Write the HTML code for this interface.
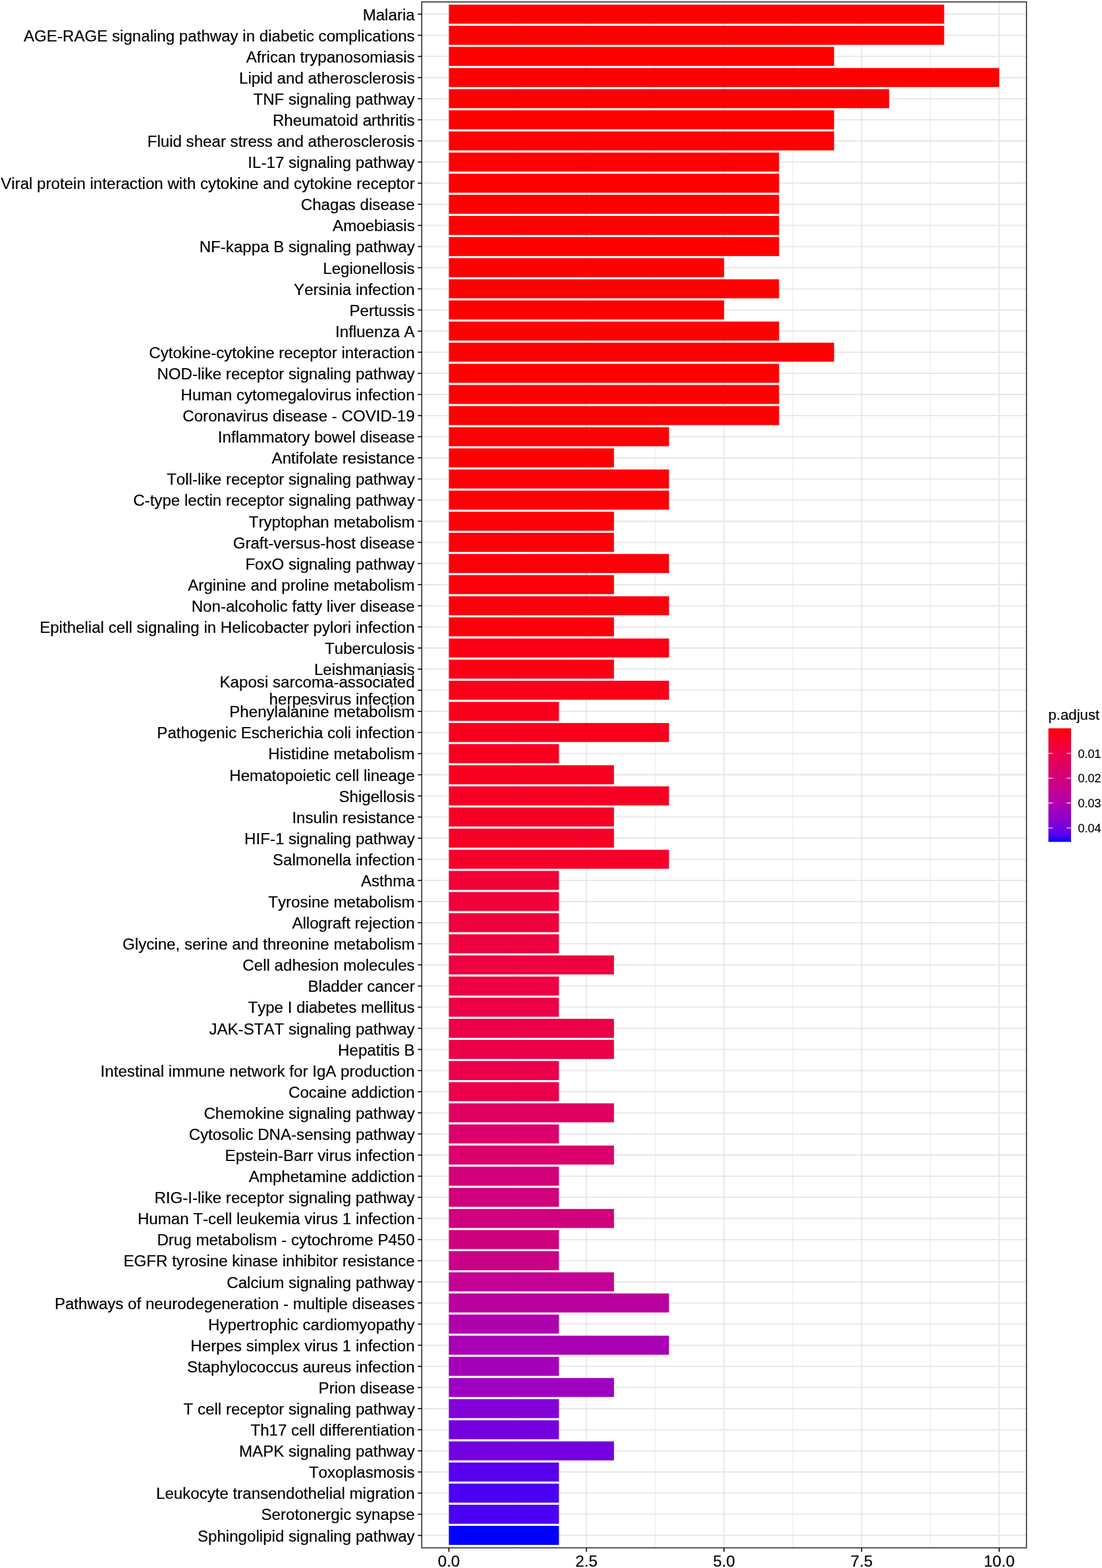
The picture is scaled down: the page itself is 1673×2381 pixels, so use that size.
<!DOCTYPE html><html><head><meta charset="utf-8"><title>KEGG enrichment barplot</title>
<style>html,body{margin:0;padding:0;background:#fff;}body{width:1673px;height:2381px;overflow:hidden;}svg{display:block;}text{font-family:"Liberation Sans",Arial,sans-serif;fill:#000;font-kerning:none;font-variant-ligatures:none;stroke:#000;stroke-width:0.2px;}</style></head><body>
<svg width="1673" height="2381" viewBox="0 0 1673 2381">
<rect x="0" y="0" width="1673" height="2381" fill="#fff"/>
<line x1="785.92" y1="2.90" x2="785.92" y2="2350.40" stroke="#ececec" stroke-width="1.1"/>
<line x1="994.78" y1="2.90" x2="994.78" y2="2350.40" stroke="#ececec" stroke-width="1.1"/>
<line x1="1203.62" y1="2.90" x2="1203.62" y2="2350.40" stroke="#ececec" stroke-width="1.1"/>
<line x1="1412.47" y1="2.90" x2="1412.47" y2="2350.40" stroke="#ececec" stroke-width="1.1"/>
<line x1="681.50" y1="2.90" x2="681.50" y2="2350.40" stroke="#e6e6e6" stroke-width="1.8"/>
<line x1="890.35" y1="2.90" x2="890.35" y2="2350.40" stroke="#e6e6e6" stroke-width="1.8"/>
<line x1="1099.20" y1="2.90" x2="1099.20" y2="2350.40" stroke="#e6e6e6" stroke-width="1.8"/>
<line x1="1308.05" y1="2.90" x2="1308.05" y2="2350.40" stroke="#e6e6e6" stroke-width="1.8"/>
<line x1="1516.90" y1="2.90" x2="1516.90" y2="2350.40" stroke="#e6e6e6" stroke-width="1.8"/>
<line x1="640.30" y1="21.50" x2="1558.40" y2="21.50" stroke="#e6e6e6" stroke-width="1.8"/>
<line x1="640.30" y1="53.58" x2="1558.40" y2="53.58" stroke="#e6e6e6" stroke-width="1.8"/>
<line x1="640.30" y1="85.67" x2="1558.40" y2="85.67" stroke="#e6e6e6" stroke-width="1.8"/>
<line x1="640.30" y1="117.75" x2="1558.40" y2="117.75" stroke="#e6e6e6" stroke-width="1.8"/>
<line x1="640.30" y1="149.83" x2="1558.40" y2="149.83" stroke="#e6e6e6" stroke-width="1.8"/>
<line x1="640.30" y1="181.91" x2="1558.40" y2="181.91" stroke="#e6e6e6" stroke-width="1.8"/>
<line x1="640.30" y1="214.00" x2="1558.40" y2="214.00" stroke="#e6e6e6" stroke-width="1.8"/>
<line x1="640.30" y1="246.08" x2="1558.40" y2="246.08" stroke="#e6e6e6" stroke-width="1.8"/>
<line x1="640.30" y1="278.16" x2="1558.40" y2="278.16" stroke="#e6e6e6" stroke-width="1.8"/>
<line x1="640.30" y1="310.25" x2="1558.40" y2="310.25" stroke="#e6e6e6" stroke-width="1.8"/>
<line x1="640.30" y1="342.33" x2="1558.40" y2="342.33" stroke="#e6e6e6" stroke-width="1.8"/>
<line x1="640.30" y1="374.41" x2="1558.40" y2="374.41" stroke="#e6e6e6" stroke-width="1.8"/>
<line x1="640.30" y1="406.50" x2="1558.40" y2="406.50" stroke="#e6e6e6" stroke-width="1.8"/>
<line x1="640.30" y1="438.58" x2="1558.40" y2="438.58" stroke="#e6e6e6" stroke-width="1.8"/>
<line x1="640.30" y1="470.66" x2="1558.40" y2="470.66" stroke="#e6e6e6" stroke-width="1.8"/>
<line x1="640.30" y1="502.75" x2="1558.40" y2="502.75" stroke="#e6e6e6" stroke-width="1.8"/>
<line x1="640.30" y1="534.83" x2="1558.40" y2="534.83" stroke="#e6e6e6" stroke-width="1.8"/>
<line x1="640.30" y1="566.91" x2="1558.40" y2="566.91" stroke="#e6e6e6" stroke-width="1.8"/>
<line x1="640.30" y1="598.99" x2="1558.40" y2="598.99" stroke="#e6e6e6" stroke-width="1.8"/>
<line x1="640.30" y1="631.08" x2="1558.40" y2="631.08" stroke="#e6e6e6" stroke-width="1.8"/>
<line x1="640.30" y1="663.16" x2="1558.40" y2="663.16" stroke="#e6e6e6" stroke-width="1.8"/>
<line x1="640.30" y1="695.24" x2="1558.40" y2="695.24" stroke="#e6e6e6" stroke-width="1.8"/>
<line x1="640.30" y1="727.33" x2="1558.40" y2="727.33" stroke="#e6e6e6" stroke-width="1.8"/>
<line x1="640.30" y1="759.41" x2="1558.40" y2="759.41" stroke="#e6e6e6" stroke-width="1.8"/>
<line x1="640.30" y1="791.49" x2="1558.40" y2="791.49" stroke="#e6e6e6" stroke-width="1.8"/>
<line x1="640.30" y1="823.57" x2="1558.40" y2="823.57" stroke="#e6e6e6" stroke-width="1.8"/>
<line x1="640.30" y1="855.66" x2="1558.40" y2="855.66" stroke="#e6e6e6" stroke-width="1.8"/>
<line x1="640.30" y1="887.74" x2="1558.40" y2="887.74" stroke="#e6e6e6" stroke-width="1.8"/>
<line x1="640.30" y1="919.82" x2="1558.40" y2="919.82" stroke="#e6e6e6" stroke-width="1.8"/>
<line x1="640.30" y1="951.91" x2="1558.40" y2="951.91" stroke="#e6e6e6" stroke-width="1.8"/>
<line x1="640.30" y1="983.99" x2="1558.40" y2="983.99" stroke="#e6e6e6" stroke-width="1.8"/>
<line x1="640.30" y1="1016.07" x2="1558.40" y2="1016.07" stroke="#e6e6e6" stroke-width="1.8"/>
<line x1="640.30" y1="1048.16" x2="1558.40" y2="1048.16" stroke="#e6e6e6" stroke-width="1.8"/>
<line x1="640.30" y1="1080.24" x2="1558.40" y2="1080.24" stroke="#e6e6e6" stroke-width="1.8"/>
<line x1="640.30" y1="1112.32" x2="1558.40" y2="1112.32" stroke="#e6e6e6" stroke-width="1.8"/>
<line x1="640.30" y1="1144.40" x2="1558.40" y2="1144.40" stroke="#e6e6e6" stroke-width="1.8"/>
<line x1="640.30" y1="1176.49" x2="1558.40" y2="1176.49" stroke="#e6e6e6" stroke-width="1.8"/>
<line x1="640.30" y1="1208.57" x2="1558.40" y2="1208.57" stroke="#e6e6e6" stroke-width="1.8"/>
<line x1="640.30" y1="1240.65" x2="1558.40" y2="1240.65" stroke="#e6e6e6" stroke-width="1.8"/>
<line x1="640.30" y1="1272.74" x2="1558.40" y2="1272.74" stroke="#e6e6e6" stroke-width="1.8"/>
<line x1="640.30" y1="1304.82" x2="1558.40" y2="1304.82" stroke="#e6e6e6" stroke-width="1.8"/>
<line x1="640.30" y1="1336.90" x2="1558.40" y2="1336.90" stroke="#e6e6e6" stroke-width="1.8"/>
<line x1="640.30" y1="1368.99" x2="1558.40" y2="1368.99" stroke="#e6e6e6" stroke-width="1.8"/>
<line x1="640.30" y1="1401.07" x2="1558.40" y2="1401.07" stroke="#e6e6e6" stroke-width="1.8"/>
<line x1="640.30" y1="1433.15" x2="1558.40" y2="1433.15" stroke="#e6e6e6" stroke-width="1.8"/>
<line x1="640.30" y1="1465.23" x2="1558.40" y2="1465.23" stroke="#e6e6e6" stroke-width="1.8"/>
<line x1="640.30" y1="1497.32" x2="1558.40" y2="1497.32" stroke="#e6e6e6" stroke-width="1.8"/>
<line x1="640.30" y1="1529.40" x2="1558.40" y2="1529.40" stroke="#e6e6e6" stroke-width="1.8"/>
<line x1="640.30" y1="1561.48" x2="1558.40" y2="1561.48" stroke="#e6e6e6" stroke-width="1.8"/>
<line x1="640.30" y1="1593.57" x2="1558.40" y2="1593.57" stroke="#e6e6e6" stroke-width="1.8"/>
<line x1="640.30" y1="1625.65" x2="1558.40" y2="1625.65" stroke="#e6e6e6" stroke-width="1.8"/>
<line x1="640.30" y1="1657.73" x2="1558.40" y2="1657.73" stroke="#e6e6e6" stroke-width="1.8"/>
<line x1="640.30" y1="1689.82" x2="1558.40" y2="1689.82" stroke="#e6e6e6" stroke-width="1.8"/>
<line x1="640.30" y1="1721.90" x2="1558.40" y2="1721.90" stroke="#e6e6e6" stroke-width="1.8"/>
<line x1="640.30" y1="1753.98" x2="1558.40" y2="1753.98" stroke="#e6e6e6" stroke-width="1.8"/>
<line x1="640.30" y1="1786.06" x2="1558.40" y2="1786.06" stroke="#e6e6e6" stroke-width="1.8"/>
<line x1="640.30" y1="1818.15" x2="1558.40" y2="1818.15" stroke="#e6e6e6" stroke-width="1.8"/>
<line x1="640.30" y1="1850.23" x2="1558.40" y2="1850.23" stroke="#e6e6e6" stroke-width="1.8"/>
<line x1="640.30" y1="1882.31" x2="1558.40" y2="1882.31" stroke="#e6e6e6" stroke-width="1.8"/>
<line x1="640.30" y1="1914.40" x2="1558.40" y2="1914.40" stroke="#e6e6e6" stroke-width="1.8"/>
<line x1="640.30" y1="1946.48" x2="1558.40" y2="1946.48" stroke="#e6e6e6" stroke-width="1.8"/>
<line x1="640.30" y1="1978.56" x2="1558.40" y2="1978.56" stroke="#e6e6e6" stroke-width="1.8"/>
<line x1="640.30" y1="2010.65" x2="1558.40" y2="2010.65" stroke="#e6e6e6" stroke-width="1.8"/>
<line x1="640.30" y1="2042.73" x2="1558.40" y2="2042.73" stroke="#e6e6e6" stroke-width="1.8"/>
<line x1="640.30" y1="2074.81" x2="1558.40" y2="2074.81" stroke="#e6e6e6" stroke-width="1.8"/>
<line x1="640.30" y1="2106.89" x2="1558.40" y2="2106.89" stroke="#e6e6e6" stroke-width="1.8"/>
<line x1="640.30" y1="2138.98" x2="1558.40" y2="2138.98" stroke="#e6e6e6" stroke-width="1.8"/>
<line x1="640.30" y1="2171.06" x2="1558.40" y2="2171.06" stroke="#e6e6e6" stroke-width="1.8"/>
<line x1="640.30" y1="2203.14" x2="1558.40" y2="2203.14" stroke="#e6e6e6" stroke-width="1.8"/>
<line x1="640.30" y1="2235.23" x2="1558.40" y2="2235.23" stroke="#e6e6e6" stroke-width="1.8"/>
<line x1="640.30" y1="2267.31" x2="1558.40" y2="2267.31" stroke="#e6e6e6" stroke-width="1.8"/>
<line x1="640.30" y1="2299.39" x2="1558.40" y2="2299.39" stroke="#e6e6e6" stroke-width="1.8"/>
<line x1="640.30" y1="2331.48" x2="1558.40" y2="2331.48" stroke="#e6e6e6" stroke-width="1.8"/>
<rect x="681.50" y="7.06" width="751.86" height="28.87" fill="#ff0000"/>
<rect x="681.50" y="39.15" width="751.86" height="28.87" fill="#ff0000"/>
<rect x="681.50" y="71.23" width="584.78" height="28.87" fill="#ff0000"/>
<rect x="681.50" y="103.31" width="835.40" height="28.87" fill="#ff0000"/>
<rect x="681.50" y="135.39" width="668.32" height="28.87" fill="#ff0000"/>
<rect x="681.50" y="167.48" width="584.78" height="28.87" fill="#ff0000"/>
<rect x="681.50" y="199.56" width="584.78" height="28.87" fill="#ff0000"/>
<rect x="681.50" y="231.64" width="501.24" height="28.87" fill="#ff0000"/>
<rect x="681.50" y="263.73" width="501.24" height="28.87" fill="#ff0000"/>
<rect x="681.50" y="295.81" width="501.24" height="28.87" fill="#ff0000"/>
<rect x="681.50" y="327.89" width="501.24" height="28.87" fill="#ff0000"/>
<rect x="681.50" y="359.98" width="501.24" height="28.87" fill="#ff0000"/>
<rect x="681.50" y="392.06" width="417.70" height="28.87" fill="#ff0000"/>
<rect x="681.50" y="424.14" width="501.24" height="28.87" fill="#ff0000"/>
<rect x="681.50" y="456.22" width="417.70" height="28.87" fill="#ff0000"/>
<rect x="681.50" y="488.31" width="501.24" height="28.87" fill="#ff0000"/>
<rect x="681.50" y="520.39" width="584.78" height="28.87" fill="#ff0000"/>
<rect x="681.50" y="552.47" width="501.24" height="28.87" fill="#ff0000"/>
<rect x="681.50" y="584.56" width="501.24" height="28.87" fill="#ff0000"/>
<rect x="681.50" y="616.64" width="501.24" height="28.87" fill="#ff0000"/>
<rect x="681.50" y="648.72" width="334.16" height="28.87" fill="#ff0003"/>
<rect x="681.50" y="680.81" width="250.62" height="28.87" fill="#fe0004"/>
<rect x="681.50" y="712.89" width="334.16" height="28.87" fill="#fe0005"/>
<rect x="681.50" y="744.97" width="334.16" height="28.87" fill="#fe0006"/>
<rect x="681.50" y="777.05" width="250.62" height="28.87" fill="#fe0007"/>
<rect x="681.50" y="809.14" width="250.62" height="28.87" fill="#fe0008"/>
<rect x="681.50" y="841.22" width="334.16" height="28.87" fill="#fe0009"/>
<rect x="681.50" y="873.30" width="250.62" height="28.87" fill="#fe000a"/>
<rect x="681.50" y="905.39" width="334.16" height="28.87" fill="#fe000b"/>
<rect x="681.50" y="937.47" width="250.62" height="28.87" fill="#fd000c"/>
<rect x="681.50" y="969.55" width="334.16" height="28.87" fill="#fc0014"/>
<rect x="681.50" y="1001.64" width="250.62" height="28.87" fill="#fc0016"/>
<rect x="681.50" y="1033.72" width="334.16" height="28.87" fill="#fb0018"/>
<rect x="681.50" y="1065.80" width="167.08" height="28.87" fill="#fb001a"/>
<rect x="681.50" y="1097.88" width="334.16" height="28.87" fill="#fa001c"/>
<rect x="681.50" y="1129.97" width="167.08" height="28.87" fill="#fa001e"/>
<rect x="681.50" y="1162.05" width="250.62" height="28.87" fill="#f90021"/>
<rect x="681.50" y="1194.13" width="334.16" height="28.87" fill="#f80024"/>
<rect x="681.50" y="1226.22" width="250.62" height="28.87" fill="#f80026"/>
<rect x="681.50" y="1258.30" width="250.62" height="28.87" fill="#f70027"/>
<rect x="681.50" y="1290.38" width="334.16" height="28.87" fill="#f6002a"/>
<rect x="681.50" y="1322.47" width="167.08" height="28.87" fill="#f20037"/>
<rect x="681.50" y="1354.55" width="167.08" height="28.87" fill="#f1003a"/>
<rect x="681.50" y="1386.63" width="167.08" height="28.87" fill="#f0003c"/>
<rect x="681.50" y="1418.71" width="167.08" height="28.87" fill="#ef003f"/>
<rect x="681.50" y="1450.80" width="250.62" height="28.87" fill="#ee0041"/>
<rect x="681.50" y="1482.88" width="167.08" height="28.87" fill="#ed0044"/>
<rect x="681.50" y="1514.96" width="167.08" height="28.87" fill="#ed0044"/>
<rect x="681.50" y="1547.05" width="250.62" height="28.87" fill="#ec0046"/>
<rect x="681.50" y="1579.13" width="250.62" height="28.87" fill="#ec0046"/>
<rect x="681.50" y="1611.21" width="167.08" height="28.87" fill="#ea004b"/>
<rect x="681.50" y="1643.30" width="167.08" height="28.87" fill="#ea004b"/>
<rect x="681.50" y="1675.38" width="250.62" height="28.87" fill="#df0062"/>
<rect x="681.50" y="1707.46" width="167.08" height="28.87" fill="#db006b"/>
<rect x="681.50" y="1739.54" width="250.62" height="28.87" fill="#db006b"/>
<rect x="681.50" y="1771.63" width="167.08" height="28.87" fill="#d30079"/>
<rect x="681.50" y="1803.71" width="167.08" height="28.87" fill="#d1007d"/>
<rect x="681.50" y="1835.79" width="250.62" height="28.87" fill="#d1007d"/>
<rect x="681.50" y="1867.88" width="167.08" height="28.87" fill="#cf007f"/>
<rect x="681.50" y="1899.96" width="167.08" height="28.87" fill="#ca0088"/>
<rect x="681.50" y="1932.04" width="250.62" height="28.87" fill="#c20094"/>
<rect x="681.50" y="1964.13" width="334.16" height="28.87" fill="#ba009f"/>
<rect x="681.50" y="1996.21" width="167.08" height="28.87" fill="#ae00ad"/>
<rect x="681.50" y="2028.29" width="334.16" height="28.87" fill="#a800b4"/>
<rect x="681.50" y="2060.37" width="167.08" height="28.87" fill="#a400b9"/>
<rect x="681.50" y="2092.46" width="250.62" height="28.87" fill="#9d00c0"/>
<rect x="681.50" y="2124.54" width="167.08" height="28.87" fill="#8300d6"/>
<rect x="681.50" y="2156.62" width="167.08" height="28.87" fill="#7500df"/>
<rect x="681.50" y="2188.71" width="250.62" height="28.87" fill="#7500df"/>
<rect x="681.50" y="2220.79" width="167.08" height="28.87" fill="#5800ee"/>
<rect x="681.50" y="2252.87" width="167.08" height="28.87" fill="#4b00f3"/>
<rect x="681.50" y="2284.96" width="167.08" height="28.87" fill="#4b00f3"/>
<rect x="681.50" y="2317.04" width="167.08" height="28.87" fill="#0000ff"/>
<rect x="640.30" y="2.90" width="918.10" height="2347.50" fill="none" stroke="#202020" stroke-width="1.5"/>
<line x1="634.30" y1="21.50" x2="640.30" y2="21.50" stroke="#000000" stroke-width="1.6"/>
<text x="629.70" y="30.55" font-size="24.12" text-anchor="end">Malaria</text>
<line x1="634.30" y1="53.58" x2="640.30" y2="53.58" stroke="#000000" stroke-width="1.6"/>
<text x="629.70" y="62.63" font-size="24.12" text-anchor="end">AGE-RAGE signaling pathway in diabetic complications</text>
<line x1="634.30" y1="85.67" x2="640.30" y2="85.67" stroke="#000000" stroke-width="1.6"/>
<text x="629.70" y="94.72" font-size="24.12" text-anchor="end">African trypanosomiasis</text>
<line x1="634.30" y1="117.75" x2="640.30" y2="117.75" stroke="#000000" stroke-width="1.6"/>
<text x="629.70" y="126.80" font-size="24.12" text-anchor="end">Lipid and atherosclerosis</text>
<line x1="634.30" y1="149.83" x2="640.30" y2="149.83" stroke="#000000" stroke-width="1.6"/>
<text x="629.70" y="158.88" font-size="24.12" text-anchor="end">TNF signaling pathway</text>
<line x1="634.30" y1="181.91" x2="640.30" y2="181.91" stroke="#000000" stroke-width="1.6"/>
<text x="629.70" y="190.97" font-size="24.12" text-anchor="end">Rheumatoid arthritis</text>
<line x1="634.30" y1="214.00" x2="640.30" y2="214.00" stroke="#000000" stroke-width="1.6"/>
<text x="629.70" y="223.05" font-size="24.12" text-anchor="end">Fluid shear stress and atherosclerosis</text>
<line x1="634.30" y1="246.08" x2="640.30" y2="246.08" stroke="#000000" stroke-width="1.6"/>
<text x="629.70" y="255.13" font-size="24.12" text-anchor="end">IL-17 signaling pathway</text>
<line x1="634.30" y1="278.16" x2="640.30" y2="278.16" stroke="#000000" stroke-width="1.6"/>
<text x="629.70" y="287.21" font-size="24.12" text-anchor="end">Viral protein interaction with cytokine and cytokine receptor</text>
<line x1="634.30" y1="310.25" x2="640.30" y2="310.25" stroke="#000000" stroke-width="1.6"/>
<text x="629.70" y="319.30" font-size="24.12" text-anchor="end">Chagas disease</text>
<line x1="634.30" y1="342.33" x2="640.30" y2="342.33" stroke="#000000" stroke-width="1.6"/>
<text x="629.70" y="351.38" font-size="24.12" text-anchor="end">Amoebiasis</text>
<line x1="634.30" y1="374.41" x2="640.30" y2="374.41" stroke="#000000" stroke-width="1.6"/>
<text x="629.70" y="383.46" font-size="24.12" text-anchor="end">NF-kappa B signaling pathway</text>
<line x1="634.30" y1="406.50" x2="640.30" y2="406.50" stroke="#000000" stroke-width="1.6"/>
<text x="629.70" y="415.55" font-size="24.12" text-anchor="end">Legionellosis</text>
<line x1="634.30" y1="438.58" x2="640.30" y2="438.58" stroke="#000000" stroke-width="1.6"/>
<text x="629.70" y="447.63" font-size="24.12" text-anchor="end">Yersinia infection</text>
<line x1="634.30" y1="470.66" x2="640.30" y2="470.66" stroke="#000000" stroke-width="1.6"/>
<text x="629.70" y="479.71" font-size="24.12" text-anchor="end">Pertussis</text>
<line x1="634.30" y1="502.75" x2="640.30" y2="502.75" stroke="#000000" stroke-width="1.6"/>
<text x="629.70" y="511.80" font-size="24.12" text-anchor="end">Influenza A</text>
<line x1="634.30" y1="534.83" x2="640.30" y2="534.83" stroke="#000000" stroke-width="1.6"/>
<text x="629.70" y="543.88" font-size="24.12" text-anchor="end">Cytokine-cytokine receptor interaction</text>
<line x1="634.30" y1="566.91" x2="640.30" y2="566.91" stroke="#000000" stroke-width="1.6"/>
<text x="629.70" y="575.96" font-size="24.12" text-anchor="end">NOD-like receptor signaling pathway</text>
<line x1="634.30" y1="598.99" x2="640.30" y2="598.99" stroke="#000000" stroke-width="1.6"/>
<text x="629.70" y="608.04" font-size="24.12" text-anchor="end">Human cytomegalovirus infection</text>
<line x1="634.30" y1="631.08" x2="640.30" y2="631.08" stroke="#000000" stroke-width="1.6"/>
<text x="629.70" y="640.13" font-size="24.12" text-anchor="end">Coronavirus disease - COVID-19</text>
<line x1="634.30" y1="663.16" x2="640.30" y2="663.16" stroke="#000000" stroke-width="1.6"/>
<text x="629.70" y="672.21" font-size="24.12" text-anchor="end">Inflammatory bowel disease</text>
<line x1="634.30" y1="695.24" x2="640.30" y2="695.24" stroke="#000000" stroke-width="1.6"/>
<text x="629.70" y="704.29" font-size="24.12" text-anchor="end">Antifolate resistance</text>
<line x1="634.30" y1="727.33" x2="640.30" y2="727.33" stroke="#000000" stroke-width="1.6"/>
<text x="629.70" y="736.38" font-size="24.12" text-anchor="end">Toll-like receptor signaling pathway</text>
<line x1="634.30" y1="759.41" x2="640.30" y2="759.41" stroke="#000000" stroke-width="1.6"/>
<text x="629.70" y="768.46" font-size="24.12" text-anchor="end">C-type lectin receptor signaling pathway</text>
<line x1="634.30" y1="791.49" x2="640.30" y2="791.49" stroke="#000000" stroke-width="1.6"/>
<text x="629.70" y="800.54" font-size="24.12" text-anchor="end">Tryptophan metabolism</text>
<line x1="634.30" y1="823.57" x2="640.30" y2="823.57" stroke="#000000" stroke-width="1.6"/>
<text x="629.70" y="832.62" font-size="24.12" text-anchor="end">Graft-versus-host disease</text>
<line x1="634.30" y1="855.66" x2="640.30" y2="855.66" stroke="#000000" stroke-width="1.6"/>
<text x="629.70" y="864.71" font-size="24.12" text-anchor="end">FoxO signaling pathway</text>
<line x1="634.30" y1="887.74" x2="640.30" y2="887.74" stroke="#000000" stroke-width="1.6"/>
<text x="629.70" y="896.79" font-size="24.12" text-anchor="end">Arginine and proline metabolism</text>
<line x1="634.30" y1="919.82" x2="640.30" y2="919.82" stroke="#000000" stroke-width="1.6"/>
<text x="629.70" y="928.87" font-size="24.12" text-anchor="end">Non-alcoholic fatty liver disease</text>
<line x1="634.30" y1="951.91" x2="640.30" y2="951.91" stroke="#000000" stroke-width="1.6"/>
<text x="629.70" y="960.96" font-size="24.12" text-anchor="end">Epithelial cell signaling in Helicobacter pylori infection</text>
<line x1="634.30" y1="983.99" x2="640.30" y2="983.99" stroke="#000000" stroke-width="1.6"/>
<text x="629.70" y="993.04" font-size="24.12" text-anchor="end">Tuberculosis</text>
<line x1="634.30" y1="1016.07" x2="640.30" y2="1016.07" stroke="#000000" stroke-width="1.6"/>
<text x="629.70" y="1025.12" font-size="24.12" text-anchor="end">Leishmaniasis</text>
<line x1="634.30" y1="1048.16" x2="640.30" y2="1048.16" stroke="#000000" stroke-width="1.6"/>
<text x="629.70" y="1043.81" font-size="24.12" text-anchor="end">Kaposi sarcoma-associated</text>
<text x="629.70" y="1070.21" font-size="24.12" text-anchor="end">herpesvirus infection</text>
<line x1="634.30" y1="1080.24" x2="640.30" y2="1080.24" stroke="#000000" stroke-width="1.6"/>
<text x="629.70" y="1089.29" font-size="24.12" text-anchor="end">Phenylalanine metabolism</text>
<line x1="634.30" y1="1112.32" x2="640.30" y2="1112.32" stroke="#000000" stroke-width="1.6"/>
<text x="629.70" y="1121.37" font-size="24.12" text-anchor="end">Pathogenic Escherichia coli infection</text>
<line x1="634.30" y1="1144.40" x2="640.30" y2="1144.40" stroke="#000000" stroke-width="1.6"/>
<text x="629.70" y="1153.45" font-size="24.12" text-anchor="end">Histidine metabolism</text>
<line x1="634.30" y1="1176.49" x2="640.30" y2="1176.49" stroke="#000000" stroke-width="1.6"/>
<text x="629.70" y="1185.54" font-size="24.12" text-anchor="end">Hematopoietic cell lineage</text>
<line x1="634.30" y1="1208.57" x2="640.30" y2="1208.57" stroke="#000000" stroke-width="1.6"/>
<text x="629.70" y="1217.62" font-size="24.12" text-anchor="end">Shigellosis</text>
<line x1="634.30" y1="1240.65" x2="640.30" y2="1240.65" stroke="#000000" stroke-width="1.6"/>
<text x="629.70" y="1249.70" font-size="24.12" text-anchor="end">Insulin resistance</text>
<line x1="634.30" y1="1272.74" x2="640.30" y2="1272.74" stroke="#000000" stroke-width="1.6"/>
<text x="629.70" y="1281.79" font-size="24.12" text-anchor="end">HIF-1 signaling pathway</text>
<line x1="634.30" y1="1304.82" x2="640.30" y2="1304.82" stroke="#000000" stroke-width="1.6"/>
<text x="629.70" y="1313.87" font-size="24.12" text-anchor="end">Salmonella infection</text>
<line x1="634.30" y1="1336.90" x2="640.30" y2="1336.90" stroke="#000000" stroke-width="1.6"/>
<text x="629.70" y="1345.95" font-size="24.12" text-anchor="end">Asthma</text>
<line x1="634.30" y1="1368.99" x2="640.30" y2="1368.99" stroke="#000000" stroke-width="1.6"/>
<text x="629.70" y="1378.04" font-size="24.12" text-anchor="end">Tyrosine metabolism</text>
<line x1="634.30" y1="1401.07" x2="640.30" y2="1401.07" stroke="#000000" stroke-width="1.6"/>
<text x="629.70" y="1410.12" font-size="24.12" text-anchor="end">Allograft rejection</text>
<line x1="634.30" y1="1433.15" x2="640.30" y2="1433.15" stroke="#000000" stroke-width="1.6"/>
<text x="629.70" y="1442.20" font-size="24.12" text-anchor="end">Glycine, serine and threonine metabolism</text>
<line x1="634.30" y1="1465.23" x2="640.30" y2="1465.23" stroke="#000000" stroke-width="1.6"/>
<text x="629.70" y="1474.28" font-size="24.12" text-anchor="end">Cell adhesion molecules</text>
<line x1="634.30" y1="1497.32" x2="640.30" y2="1497.32" stroke="#000000" stroke-width="1.6"/>
<text x="629.70" y="1506.37" font-size="24.12" text-anchor="end">Bladder cancer</text>
<line x1="634.30" y1="1529.40" x2="640.30" y2="1529.40" stroke="#000000" stroke-width="1.6"/>
<text x="629.70" y="1538.45" font-size="24.12" text-anchor="end">Type I diabetes mellitus</text>
<line x1="634.30" y1="1561.48" x2="640.30" y2="1561.48" stroke="#000000" stroke-width="1.6"/>
<text x="629.70" y="1570.53" font-size="24.12" text-anchor="end">JAK-STAT signaling pathway</text>
<line x1="634.30" y1="1593.57" x2="640.30" y2="1593.57" stroke="#000000" stroke-width="1.6"/>
<text x="629.70" y="1602.62" font-size="24.12" text-anchor="end">Hepatitis B</text>
<line x1="634.30" y1="1625.65" x2="640.30" y2="1625.65" stroke="#000000" stroke-width="1.6"/>
<text x="629.70" y="1634.70" font-size="24.12" text-anchor="end">Intestinal immune network for IgA production</text>
<line x1="634.30" y1="1657.73" x2="640.30" y2="1657.73" stroke="#000000" stroke-width="1.6"/>
<text x="629.70" y="1666.78" font-size="24.12" text-anchor="end">Cocaine addiction</text>
<line x1="634.30" y1="1689.82" x2="640.30" y2="1689.82" stroke="#000000" stroke-width="1.6"/>
<text x="629.70" y="1698.87" font-size="24.12" text-anchor="end">Chemokine signaling pathway</text>
<line x1="634.30" y1="1721.90" x2="640.30" y2="1721.90" stroke="#000000" stroke-width="1.6"/>
<text x="629.70" y="1730.95" font-size="24.12" text-anchor="end">Cytosolic DNA-sensing pathway</text>
<line x1="634.30" y1="1753.98" x2="640.30" y2="1753.98" stroke="#000000" stroke-width="1.6"/>
<text x="629.70" y="1763.03" font-size="24.12" text-anchor="end">Epstein-Barr virus infection</text>
<line x1="634.30" y1="1786.06" x2="640.30" y2="1786.06" stroke="#000000" stroke-width="1.6"/>
<text x="629.70" y="1795.11" font-size="24.12" text-anchor="end">Amphetamine addiction</text>
<line x1="634.30" y1="1818.15" x2="640.30" y2="1818.15" stroke="#000000" stroke-width="1.6"/>
<text x="629.70" y="1827.20" font-size="24.12" text-anchor="end">RIG-I-like receptor signaling pathway</text>
<line x1="634.30" y1="1850.23" x2="640.30" y2="1850.23" stroke="#000000" stroke-width="1.6"/>
<text x="629.70" y="1859.28" font-size="24.12" text-anchor="end">Human T-cell leukemia virus 1 infection</text>
<line x1="634.30" y1="1882.31" x2="640.30" y2="1882.31" stroke="#000000" stroke-width="1.6"/>
<text x="629.70" y="1891.36" font-size="24.12" text-anchor="end">Drug metabolism - cytochrome P450</text>
<line x1="634.30" y1="1914.40" x2="640.30" y2="1914.40" stroke="#000000" stroke-width="1.6"/>
<text x="629.70" y="1923.45" font-size="24.12" text-anchor="end">EGFR tyrosine kinase inhibitor resistance</text>
<line x1="634.30" y1="1946.48" x2="640.30" y2="1946.48" stroke="#000000" stroke-width="1.6"/>
<text x="629.70" y="1955.53" font-size="24.12" text-anchor="end">Calcium signaling pathway</text>
<line x1="634.30" y1="1978.56" x2="640.30" y2="1978.56" stroke="#000000" stroke-width="1.6"/>
<text x="629.70" y="1987.61" font-size="24.12" text-anchor="end">Pathways of neurodegeneration - multiple diseases</text>
<line x1="634.30" y1="2010.65" x2="640.30" y2="2010.65" stroke="#000000" stroke-width="1.6"/>
<text x="629.70" y="2019.70" font-size="24.12" text-anchor="end">Hypertrophic cardiomyopathy</text>
<line x1="634.30" y1="2042.73" x2="640.30" y2="2042.73" stroke="#000000" stroke-width="1.6"/>
<text x="629.70" y="2051.78" font-size="24.12" text-anchor="end">Herpes simplex virus 1 infection</text>
<line x1="634.30" y1="2074.81" x2="640.30" y2="2074.81" stroke="#000000" stroke-width="1.6"/>
<text x="629.70" y="2083.86" font-size="24.12" text-anchor="end">Staphylococcus aureus infection</text>
<line x1="634.30" y1="2106.89" x2="640.30" y2="2106.89" stroke="#000000" stroke-width="1.6"/>
<text x="629.70" y="2115.95" font-size="24.12" text-anchor="end">Prion disease</text>
<line x1="634.30" y1="2138.98" x2="640.30" y2="2138.98" stroke="#000000" stroke-width="1.6"/>
<text x="629.70" y="2148.03" font-size="24.12" text-anchor="end">T cell receptor signaling pathway</text>
<line x1="634.30" y1="2171.06" x2="640.30" y2="2171.06" stroke="#000000" stroke-width="1.6"/>
<text x="629.70" y="2180.11" font-size="24.12" text-anchor="end">Th17 cell differentiation</text>
<line x1="634.30" y1="2203.14" x2="640.30" y2="2203.14" stroke="#000000" stroke-width="1.6"/>
<text x="629.70" y="2212.19" font-size="24.12" text-anchor="end">MAPK signaling pathway</text>
<line x1="634.30" y1="2235.23" x2="640.30" y2="2235.23" stroke="#000000" stroke-width="1.6"/>
<text x="629.70" y="2244.28" font-size="24.12" text-anchor="end">Toxoplasmosis</text>
<line x1="634.30" y1="2267.31" x2="640.30" y2="2267.31" stroke="#000000" stroke-width="1.6"/>
<text x="629.70" y="2276.36" font-size="24.12" text-anchor="end">Leukocyte transendothelial migration</text>
<line x1="634.30" y1="2299.39" x2="640.30" y2="2299.39" stroke="#000000" stroke-width="1.6"/>
<text x="629.70" y="2308.44" font-size="24.12" text-anchor="end">Serotonergic synapse</text>
<line x1="634.30" y1="2331.48" x2="640.30" y2="2331.48" stroke="#000000" stroke-width="1.6"/>
<text x="629.70" y="2340.53" font-size="24.12" text-anchor="end">Sphingolipid signaling pathway</text>
<line x1="681.50" y1="2350.40" x2="681.50" y2="2356.40" stroke="#000000" stroke-width="1.6"/>
<text x="681.50" y="2378.85" font-size="24.12" text-anchor="middle">0.0</text>
<line x1="890.35" y1="2350.40" x2="890.35" y2="2356.40" stroke="#000000" stroke-width="1.6"/>
<text x="890.35" y="2378.85" font-size="24.12" text-anchor="middle">2.5</text>
<line x1="1099.20" y1="2350.40" x2="1099.20" y2="2356.40" stroke="#000000" stroke-width="1.6"/>
<text x="1099.20" y="2378.85" font-size="24.12" text-anchor="middle">5.0</text>
<line x1="1308.05" y1="2350.40" x2="1308.05" y2="2356.40" stroke="#000000" stroke-width="1.6"/>
<text x="1308.05" y="2378.85" font-size="24.12" text-anchor="middle">7.5</text>
<line x1="1516.90" y1="2350.40" x2="1516.90" y2="2356.40" stroke="#000000" stroke-width="1.6"/>
<text x="1516.90" y="2378.85" font-size="24.12" text-anchor="middle">10.0</text>
<text x="1591.5" y="1092.6" font-size="22.2">p.adjust</text>
<defs><linearGradient id="cb" x1="0" y1="0" x2="0" y2="1">
<stop offset="0.000" stop-color="#ff0000"/>
<stop offset="0.050" stop-color="#fb001a"/>
<stop offset="0.100" stop-color="#f6002a"/>
<stop offset="0.150" stop-color="#f20037"/>
<stop offset="0.200" stop-color="#ed0044"/>
<stop offset="0.250" stop-color="#e80050"/>
<stop offset="0.300" stop-color="#e3005b"/>
<stop offset="0.350" stop-color="#dd0066"/>
<stop offset="0.400" stop-color="#d70072"/>
<stop offset="0.450" stop-color="#d1007d"/>
<stop offset="0.500" stop-color="#ca0088"/>
<stop offset="0.550" stop-color="#c20094"/>
<stop offset="0.600" stop-color="#ba009f"/>
<stop offset="0.650" stop-color="#b000ab"/>
<stop offset="0.700" stop-color="#a600b7"/>
<stop offset="0.750" stop-color="#9a00c3"/>
<stop offset="0.800" stop-color="#8d00ce"/>
<stop offset="0.850" stop-color="#7c00da"/>
<stop offset="0.900" stop-color="#6800e7"/>
<stop offset="0.950" stop-color="#4b00f3"/>
<stop offset="1.000" stop-color="#0000ff"/>
</linearGradient></defs>
<rect x="1591.60" y="1105.90" width="34.40" height="172.50" fill="url(#cb)"/>
<line x1="1591.60" y1="1144.00" x2="1598.40" y2="1144.00" stroke="#fff" stroke-width="1.1"/>
<line x1="1619.20" y1="1144.00" x2="1626.00" y2="1144.00" stroke="#fff" stroke-width="1.1"/>
<text x="1636.5" y="1150.60" font-size="18">0.01</text>
<line x1="1591.60" y1="1181.70" x2="1598.40" y2="1181.70" stroke="#fff" stroke-width="1.1"/>
<line x1="1619.20" y1="1181.70" x2="1626.00" y2="1181.70" stroke="#fff" stroke-width="1.1"/>
<text x="1636.5" y="1188.30" font-size="18">0.02</text>
<line x1="1591.60" y1="1219.30" x2="1598.40" y2="1219.30" stroke="#fff" stroke-width="1.1"/>
<line x1="1619.20" y1="1219.30" x2="1626.00" y2="1219.30" stroke="#fff" stroke-width="1.1"/>
<text x="1636.5" y="1225.90" font-size="18">0.03</text>
<line x1="1591.60" y1="1257.20" x2="1598.40" y2="1257.20" stroke="#fff" stroke-width="1.1"/>
<line x1="1619.20" y1="1257.20" x2="1626.00" y2="1257.20" stroke="#fff" stroke-width="1.1"/>
<text x="1636.5" y="1263.80" font-size="18">0.04</text>
</svg></body></html>
